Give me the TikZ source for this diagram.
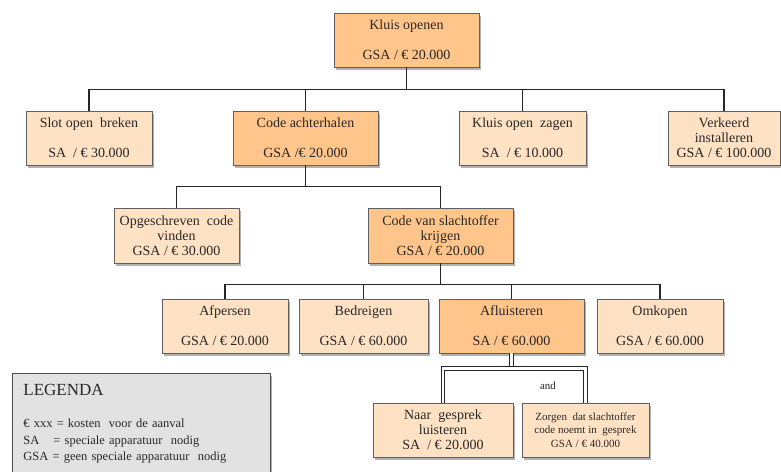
\documentclass[tikz,border=0pt]{standalone}
\usepackage{fontspec}
\setmainfont{Liberation Serif}
\usetikzlibrary{shadows}
\definecolor{darkpeach}{RGB}{255,197,138}
\definecolor{lightpeach}{RGB}{255,225,195}
\definecolor{boxline}{RGB}{95,95,95}
\definecolor{inktext}{RGB}{40,40,40}
\definecolor{legendfill}{RGB}{226,226,226}

\begin{document}
\begin{tikzpicture}[x=1pt,y=-1pt,
    attackbox/.style={draw=boxline,fill=lightpeach,text=inktext,align=center,
      minimum height=54pt,inner sep=0pt,line width=0.8pt,
      font=\fontsize{14}{15}\selectfont,
      drop shadow={shadow xshift=2pt,shadow yshift=-2.5pt,fill=black,opacity=0.3}},
    keybox/.style={attackbox,fill=darkpeach},
    branch/.style={draw=black!85,line width=1.3pt},
    andbranch/.style={draw=black!85,double=white,double distance=2.4pt,line width=1pt}]
  \useasboundingbox (0,0) rectangle (781,471);

  % top of the tree
  \node[keybox,minimum width=145pt] (openen) at (406.5,40) {Kluis openen\\[15pt]GSA / € 20.000};

  % first level
  \node[attackbox,minimum width=126pt] (slot) at (89,138) {Slot open~ breken\\[15pt]SA~ / € 30.000};
  \node[keybox,minimum width=145pt] (achterhalen) at (305.5,138) {Code achterhalen\\[15pt]GSA /€ 20.000};
  \node[attackbox,minimum width=127pt] (zagen) at (522.5,138) {Kluis open~ zagen\\[15pt]SA~ / € 10.000};
  \node[attackbox,minimum width=112pt] (verkeerd) at (724,138) {Verkeerd\\installeren\\GSA / € 100.000};

  % second level
  \node[attackbox,minimum width=125pt,minimum height=55pt] (opgeschreven) at (176.5,235.5)
    {Opgeschreven~ code\\vinden\\GSA / € 30.000};
  \node[keybox,minimum width=145pt,minimum height=55pt] (slachtoffer) at (440.5,235.5)
    {Code van slachtoffer\\krijgen\\GSA / € 20.000};

  % third level
  \node[attackbox,minimum width=126pt] (afpersen) at (225,326) {Afpersen\\[15pt]GSA / € 20.000};
  \node[attackbox,minimum width=129pt] (bedreigen) at (363.5,326) {Bedreigen\\[15pt]GSA / € 60.000};
  \node[keybox,minimum width=145pt] (afluisteren) at (511.5,326) {Afluisteren\\[15pt]SA / € 60.000};
  \node[attackbox,minimum width=126pt] (omkopen) at (660,326) {Omkopen\\[15pt]GSA / € 60.000};

  % fourth level (and)
  \node[attackbox,minimum width=140pt] (naar) at (443,430) {Naar~ gesprek\\luisteren\\SA~ / € 20.000};
  \node[attackbox,minimum width=127pt,font=\fontsize{11}{13.5}\selectfont] (zorgen) at (585.5,430)
    {Zorgen~ dat slachtoffer\\code noemt in~ gesprek\\GSA / € 40.000};

  % connectors
  \foreach \kid in {slot,achterhalen,zagen,verkeerd}
    \draw[branch] (openen.south) -- ++(0,22) -| (\kid.north);
  \foreach \kid in {opgeschreven,slachtoffer}
    \draw[branch] (achterhalen.south) -- ++(0,21) -| (\kid.north);
  \foreach \kid in {afpersen,bedreigen,afluisteren,omkopen}
    \draw[branch] (slachtoffer.south) -- ++(0,21) -| (\kid.north);

  \coordinate (andbar) at ([yshift=-15pt]afluisteren.south);
  \draw[andbranch] (afluisteren.south) -- (andbar);
  \draw[andbranch] (naar.north) |- (andbar) -| (zorgen.north);
  \node[text=inktext,font=\fontsize{11}{12}\selectfont] (andlabel) at (548,386) {and};

  % legend
  \node[draw=black!70,fill=legendfill,line width=0.9pt,anchor=north west,
    text width=236pt,inner xsep=11pt,inner ysep=11pt,
    align=left,text=inktext,font=\fontsize{12.5}{16.5}\selectfont,
    drop shadow={shadow xshift=2pt,shadow yshift=-2.5pt,fill=black,opacity=0.3}]
    (legenda) at (12,373)
    {{\fontsize{17}{20}\selectfont LEGENDA}\\[15.5pt]
     € xxx = kosten~ voor de aanval\\
     \makebox[30pt][l]{SA}= speciale apparatuur~ nodig\\
     GSA = geen speciale apparatuur~ nodig};
\end{tikzpicture}
\end{document}
